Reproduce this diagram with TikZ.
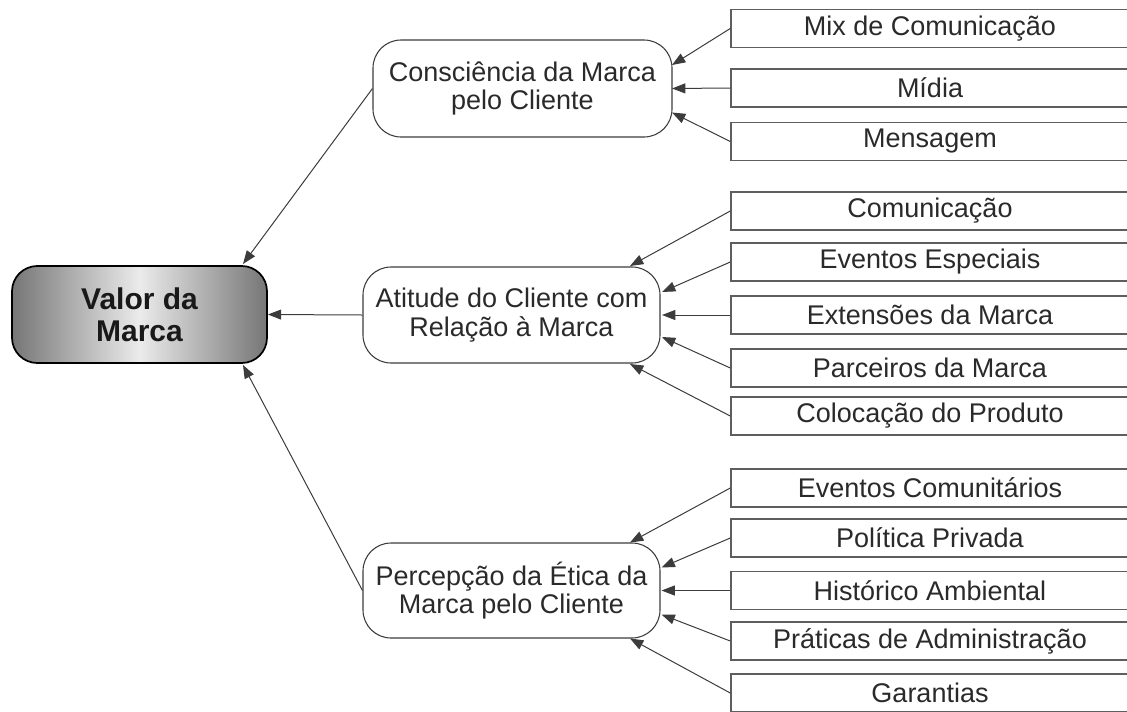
\documentclass[tikz,border=0pt]{standalone}
\usepackage{fontspec}
\setmainfont{Liberation Sans}
\usetikzlibrary{arrows.meta,calc}
\definecolor{linec}{HTML}{3C3C3C}
\definecolor{boxc}{HTML}{5E5E5E}
\definecolor{txt}{HTML}{2A2A2A}
\definecolor{valedge}{HTML}{767676}
\definecolor{valmid}{HTML}{EBEBEB}
\begin{document}
\begin{tikzpicture}[x=0.75pt,y=-0.75pt,
  leaf/.style={draw=boxc, line width=1.1pt, fill=white, minimum width=298.5pt,
    minimum height=28.5pt, inner sep=0pt, text=txt,
    font=\fontsize{20.25pt}{21pt}\selectfont},
  mid/.style={draw=linec, line width=0.8pt, rounded corners=21pt, fill=white,
    minimum height=72pt, inner sep=0pt, align=center, text=txt,
    font=\fontsize{20.25pt}{21.5pt}\selectfont},
  root/.style={draw=black, line width=1.3pt, rounded corners=19pt,
    minimum width=191.25pt, minimum height=72.75pt, inner sep=0pt, align=center,
    left color=valedge, right color=valedge, middle color=valmid,
    text=black!90, font=\fontsize{22.5pt}{24pt}\selectfont\bfseries},
  conn/.style={draw=linec, line width=0.75pt, -{Triangle[length=10pt,width=7.5pt]}}
]
\useasboundingbox (0,0) rectangle (1127,711);
\clip (0,0) rectangle (1127,711);

% root
\node[root] (val) at (139.5,314.5) {Valor da\\Marca};

% middle nodes
\node[mid, minimum width=224.25pt, minimum height=72.75pt] (cons) at (522.5,88.5) {Consciência da Marca\\pelo Cliente};
\node[mid, minimum width=222.75pt] (ati) at (511.5,315) {Atitude do Cliente com\\Relação à Marca};
\node[mid, minimum width=222.75pt, minimum height=71.25pt] (perc) at (511.5,590.5) {Percepção da Ética da\\Marca pelo Cliente};

% leaves group 1
\node[leaf] (mix) at (930,28.5) {Mix de Comunicação};
\node[leaf] (mid1) at (930,88) {Mídia};
\node[leaf] (msg) at (930,141.5) {Mensagem};
% leaves group 2
\node[leaf] (com) at (930,211) {Comunicação};
\node[leaf] (eve) at (930,262) {Eventos Especiais};
\node[leaf] (ext) at (930,315) {Extensões da Marca};
\node[leaf] (par) at (930,368) {Parceiros da Marca};
\node[leaf] (col) at (930,416) {Colocação do Produto};
% leaves group 3
\node[leaf] (evc) at (930,488) {Eventos Comunitários};
\node[leaf] (pol) at (930,538) {Política Privada};
\node[leaf] (his) at (930,590.5) {Histórico Ambiental};
\node[leaf] (pra) at (930,641) {Práticas de Administração};
\node[leaf] (gar) at (930,693) {Garantias};

% connectors to root
\draw[conn] (cons.west) -- ($(val.center)+(103.5,-50.5)$);
\draw[conn] (ati.west) -- (val.east);
\draw[conn] (perc.west) -- ($(val.center)+(103.5,50.5)$);

% group 1
\draw[conn] (mix.west) -- ($(cons.center)+(149.5,-23.5)$);
\draw[conn] (mid1.west) -- ($(cons.center)+(149.5,0)$);
\draw[conn] (msg.west) -- ($(cons.center)+(149.5,24)$);
% group 2
\draw[conn] (com.west) -- ($(ati.center)+(118.5,-49)$);
\draw[conn] (eve.west) -- ($(ati.center)+(150.5,-23)$);
\draw[conn] (ext.west) -- ($(ati.center)+(150.5,0)$);
\draw[conn] (par.west) -- ($(ati.center)+(150.5,22)$);
\draw[conn] (col.west) -- ($(ati.center)+(118.5,49)$);
% group 3
\draw[conn] (evc.west) -- ($(perc.center)+(118.5,-48)$);
\draw[conn] (pol.west) -- ($(perc.center)+(150,-23)$);
\draw[conn] (his.west) -- ($(perc.center)+(150,0)$);
\draw[conn] (pra.west) -- ($(perc.center)+(150,24)$);
\draw[conn] (gar.west) -- ($(perc.center)+(118.5,48)$);
\end{tikzpicture}
\end{document}
